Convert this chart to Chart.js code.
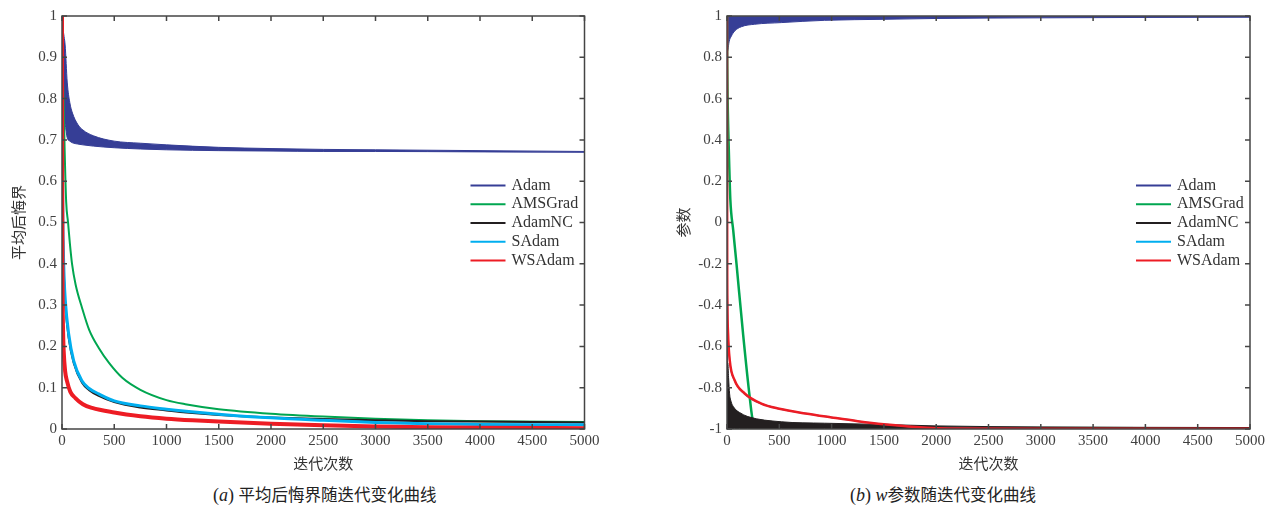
<!DOCTYPE html>
<html>
<head>
<meta charset="utf-8">
<script src="https://cdn.jsdelivr.net/npm/chart.js@4.4.1/dist/chart.umd.min.js"></script>
<style>
  body { margin: 0; background: #fff; width: 1276px; height: 511px; position: relative; overflow: hidden; }
  canvas { position: absolute; top: 0; }
  .cap { position: absolute; top: 482px; font-size: 18px; color: #222; white-space: nowrap;
         font-family: "Liberation Serif", "Noto Sans CJK SC", serif; }
  .cap span { font-family: "Noto Sans CJK SC", sans-serif; font-size: 16.5px; }
</style>
</head>
<body>
<canvas id="regret" width="620" height="475" style="left:0"></canvas>
<canvas id="param" width="616" height="475" style="left:660px"></canvas>
<div class="cap" style="left:213px">(<i>a</i>) <span>平均后悔界随迭代变化曲线</span></div>
<div class="cap" style="left:850px">(<i>b</i>) <i>w</i><span>参数随迭代变化曲线</span></div>
<script>
// Legend names
const seriesNames = ['Adam', 'AMSGrad', 'AdamNC', 'SAdam', 'WSAdam'];
const seriesColors = ['rgb(54,62,150)', '#00a650', '#231f20', '#00aeef', '#ed1c24'];

// (a) average regret bound
const regretAdamIter = [0, 5, 10, 20, 30, 50, 75, 100, 150, 200, 300, 500, 750, 1000, 1500, 2000, 2500, 3000, 4000, 5000];
const regretAdamHigh = [1, 0.99, 0.97, 0.95, 0.93, 0.84, 0.79, 0.765, 0.738, 0.724, 0.71, 0.697, 0.692, 0.688, 0.682, 0.679, 0.677, 0.676, 0.674, 0.672];
const regretAdamLow = [1, 0.9, 0.8, 0.75, 0.738, 0.705, 0.697, 0.693, 0.69, 0.688, 0.685, 0.681, 0.678, 0.676, 0.674, 0.673, 0.672, 0.672, 0.671, 0.67];

const regretAmsIter = [0, 5, 10, 16, 25, 40, 58, 75, 96, 130, 192, 260, 352, 450, 577, 750, 1000, 1180, 1500, 2000, 2500, 3000, 3500, 4000, 5000];
const regretAms = [1, 0.9, 0.84, 0.79, 0.68, 0.55, 0.5, 0.45, 0.4, 0.35, 0.293, 0.24, 0.196, 0.16, 0.124, 0.095, 0.07, 0.06, 0.048, 0.037, 0.03, 0.025, 0.021, 0.019, 0.017];

const regretNcIter = [0, 3, 6, 10, 20, 32, 64, 112, 192, 260, 352, 500, 750, 1000, 1187, 1500, 2000, 2500, 3000, 3500, 4000, 5000];
const regretNc = [1, 0.7, 0.55, 0.46, 0.36, 0.3, 0.22, 0.16, 0.112, 0.094, 0.08, 0.065, 0.052, 0.045, 0.04, 0.034, 0.028, 0.024, 0.021, 0.019, 0.018, 0.016];
const regretS = [1, 0.72, 0.56, 0.47, 0.37, 0.31, 0.23, 0.165, 0.116, 0.098, 0.085, 0.068, 0.056, 0.048, 0.043, 0.036, 0.027, 0.021, 0.016, 0.013, 0.011, 0.01];

const regretWsIter = [0, 2, 4, 6, 10, 16, 30, 48, 80, 128, 200, 288, 500, 750, 1000, 1250, 1500, 2000, 2500, 3000, 3500, 4000, 5000];
const regretWs = [1, 0.6, 0.4, 0.31, 0.24, 0.19, 0.14, 0.116, 0.09, 0.075, 0.06, 0.051, 0.04, 0.031, 0.025, 0.021, 0.018, 0.013, 0.009, 0.006, 0.004, 0.003, 0.002];

// (b) parameter w
const paramAdamIter = [0, 10, 20, 42, 73, 137, 264, 519, 932, 1500, 2000, 3000, 4000, 5000];
const paramAdamHigh = [1, 0.999, 0.999, 0.999, 0.999, 0.999, 0.999, 0.999, 0.999, 0.999, 0.999, 0.999, 0.999, 0.999];
const paramAdamLow = [0.82, 0.84, 0.875, 0.903, 0.927, 0.948, 0.96, 0.968, 0.979, 0.984, 0.988, 0.991, 0.993, 0.994];

const paramAmsIter = [0, 3, 6, 12, 20, 32, 60, 90, 153, 217, 248, 300, 500, 1000, 2000, 5000];
const paramAms = [1, 0.75, 0.6, 0.45, 0.3, 0.11, -0.04, -0.196, -0.536, -0.845, -0.958, -0.975, -0.985, -0.99, -0.995, -0.997];

const paramNcIter = [0, 1, 8, 15, 25, 35, 73, 120, 200, 519, 932, 1500, 2000, 3000, 5000];
const paramNcHigh = [1, -0.67, -0.68, -0.75, -0.83, -0.86, -0.9, -0.92, -0.94, -0.965, -0.972, -0.978, -0.985, -0.99, -0.993];
const paramNcLow = [1, -0.998, -0.998, -0.998, -0.998, -0.998, -0.998, -0.998, -0.998, -0.998, -0.998, -0.998, -0.998, -0.998, -0.998];

const paramWsIter = [0, 1, 2, 4, 10, 26, 73, 169, 328, 500, 750, 1000, 1250, 1500, 1800, 2200, 3000, 5000];
const paramS = [1, 0.3, -0.2, -0.4, -0.54, -0.67, -0.765, -0.83, -0.878, -0.902, -0.925, -0.944, -0.962, -0.977, -0.99, -0.998, -0.999, -0.999];
const paramWs = [1, 0.3, -0.2, -0.4, -0.536, -0.666, -0.764, -0.828, -0.877, -0.902, -0.925, -0.944, -0.962, -0.977, -0.99, -0.998, -0.999, -0.999];

const xTicks = [0, 500, 1000, 1500, 2000, 2500, 3000, 3500, 4000, 4500, 5000];

const serif = '"Liberation Serif", "Times New Roman", serif';
const cjk = '"Noto Sans CJK SC", sans-serif';

function pts(xs, ys) {
  return xs.map((x, i) => ({ x: x, y: ys[i] }));
}

function line(label, xs, ys, color, width, order, extra) {
  return Object.assign({
    label: label,
    data: pts(xs, ys),
    borderColor: color,
    backgroundColor: color,
    borderWidth: width,
    pointRadius: 0,
    fill: false,
    cubicInterpolationMode: 'monotone',
    order: order,
  }, extra || {});
}

// Box, inward ticks and legend drawn inside the plot (MATLAB style)
const boxPlugin = {
  id: 'boxPlugin',
  afterDatasetsDraw(chart) {
    const { ctx, chartArea: a, scales: { x, y } } = chart;
    ctx.save();
    ctx.strokeStyle = '#454545';
    ctx.lineWidth = 1.5;
    ctx.strokeRect(a.left, a.top, a.right - a.left, a.bottom - a.top);
    ctx.beginPath();
    x.ticks.forEach((t) => {
      const px = x.getPixelForValue(t.value);
      ctx.moveTo(px, a.bottom); ctx.lineTo(px, a.bottom - 5);
      ctx.moveTo(px, a.top); ctx.lineTo(px, a.top + 5);
    });
    y.ticks.forEach((t) => {
      const py = y.getPixelForValue(t.value);
      ctx.moveTo(a.left, py); ctx.lineTo(a.left + 5, py);
      ctx.moveTo(a.right, py); ctx.lineTo(a.right - 5, py);
    });
    ctx.stroke();

    // legend
    const lx = a.right - 114;
    ctx.font = '16px ' + serif;
    ctx.textBaseline = 'middle';
    ctx.fillStyle = '#333';
    seriesNames.forEach((name, i) => {
      const ly = 185.5 + i * 18.75;
      ctx.strokeStyle = seriesColors[i];
      ctx.lineWidth = 2;
      ctx.beginPath();
      ctx.moveTo(lx, ly); ctx.lineTo(lx + 35, ly);
      ctx.stroke();
      ctx.fillText(name, lx + 41, ly);
    });
    ctx.restore();
  },
};

function makeChart(id, datasets, yMin, yMax, yStep, yTitle, yWidth, yTitlePad, rightPad) {
  return new Chart(document.getElementById(id), {
    type: 'line',
    data: { datasets: datasets },
    options: {
      responsive: false,
      animation: false,
      layout: { padding: { top: 16, right: rightPad, left: 0, bottom: 0 } },
      plugins: { legend: { display: false }, tooltip: { enabled: false } },
      scales: {
        x: {
          type: 'linear',
          min: 0,
          max: 5000,
          afterBuildTicks: (s) => { s.ticks = xTicks.map((v) => ({ value: v })); },
          afterFit: (s) => { s.height = 46; },
          grid: { display: false, drawTicks: false },
          border: { display: false },
          ticks: { padding: 3, color: '#404040', font: { family: serif, size: 15 }, callback: (v) => String(v), maxRotation: 0 },
          title: { display: true, text: '迭代次数', color: '#333', font: { family: cjk, size: 15 }, padding: { top: 0, bottom: 3 } },
        },
        y: {
          min: yMin,
          max: yMax,
          afterFit: (s) => { s.width = yWidth; },
          grid: { display: false, drawTicks: false },
          border: { display: false },
          ticks: { stepSize: yStep, padding: 5, color: '#404040', font: { family: serif, size: 15 }, callback: (v) => String(+v.toFixed(1)) },
          title: { display: true, text: yTitle, color: '#333', font: { family: cjk, size: 15 }, padding: { top: yTitlePad, bottom: 0 } },
        },
      },
    },
    plugins: [boxPlugin],
  });
}

makeChart('regret', [
  line('Adam', regretAdamIter, regretAdamHigh, seriesColors[0], 1, 5, { fill: '+1' }),
  line('', regretAdamIter, regretAdamLow, seriesColors[0], 1, 5),
  line('AMSGrad', regretAmsIter, regretAms, seriesColors[1], 2, 4),
  line('AdamNC', regretNcIter, regretNc, seriesColors[2], 2, 3),
  line('SAdam', regretNcIter, regretS, seriesColors[3], 3, 2),
  line('WSAdam', regretWsIter, regretWs, seriesColors[4], 4, 1),
], 0, 1, 0.1, '平均后悔界', 62, 9, 35.5);

makeChart('param', [
  line('Adam', paramAdamIter, paramAdamHigh, seriesColors[0], 1, 5, { fill: '+1' }),
  line('', paramAdamIter, paramAdamLow, seriesColors[0], 1, 5),
  line('AMSGrad', paramAmsIter, paramAms, seriesColors[1], 2.5, 4),
  line('AdamNC', paramNcIter, paramNcHigh, seriesColors[2], 1, 3, { fill: '+1' }),
  line('', paramNcIter, paramNcLow, seriesColors[2], 1, 3),
  line('SAdam', paramWsIter, paramS, seriesColors[3], 1.5, 2),
  line('WSAdam', paramWsIter, paramWs, seriesColors[4], 2.5, 1),
], -1, 1, 0.2, '参数', 67, 14, 26);
</script>
</body>
</html>
